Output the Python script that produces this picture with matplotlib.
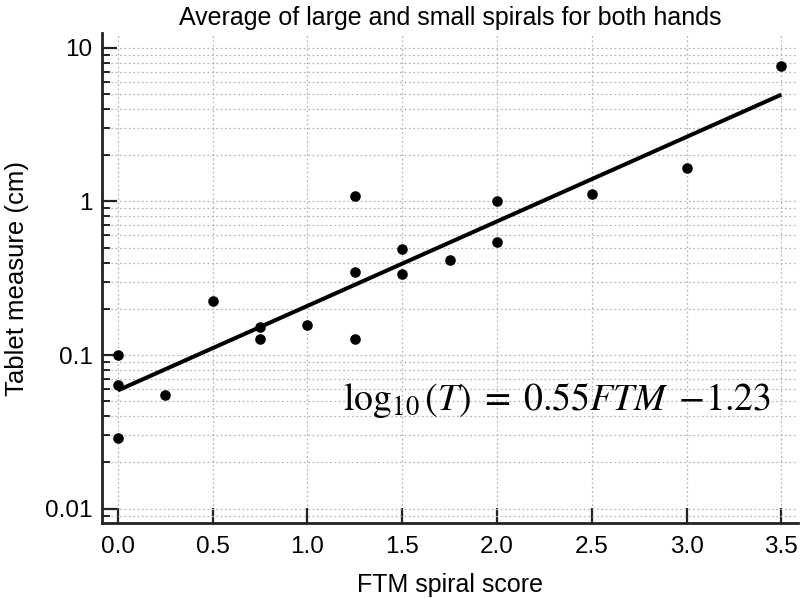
import numpy as np
import matplotlib
matplotlib.use("Agg")
import matplotlib.pyplot as plt
from matplotlib.ticker import LogLocator, FixedLocator, NullFormatter

# FTM spiral score vs tablet measure (cm)
ftm = [0.0, 0.0, 0.0, 0.25, 0.5, 0.75, 0.75, 1.0, 1.25, 1.25, 1.25,
       1.5, 1.5, 1.75, 2.0, 2.0, 2.5, 3.0, 3.5]
tablet = [0.100, 0.064, 0.029, 0.055, 0.225, 0.152, 0.127, 0.157, 1.08,
          0.345, 0.127, 0.49, 0.335, 0.415, 1.01, 0.545, 1.12, 1.64, 7.6]

# regression: log10(T) = slope * FTM + intercept
slope = 0.55
intercept = -1.23
fit_range = [0.0, 3.5]

x_ticks = [0.0, 0.5, 1.0, 1.5, 2.0, 2.5, 3.0, 3.5]
y_ticks = [0.01, 0.1, 1, 10]
y_ticklabels = ["0.01", "0.1", "1", "10"]

plt.rcParams["font.family"] = ["Liberation Sans", "DejaVu Sans"]
plt.rcParams["mathtext.fontset"] = "stix"

fig = plt.figure(figsize=(8.0, 5.98), dpi=100)
ax = fig.add_axes([0.128, 0.125, 0.870, 0.820])

ax.set_yscale("log")
ax.set_xlim(-0.082, 3.59)
ax.set_ylim(10 ** -2.095, 10 ** 1.097)

grid_kw = dict(color="#b8b8b8", linestyle=(0, (1.5, 2.0)), linewidth=0.9)
ax.grid(True, which="both", axis="y", **grid_kw)
ax.grid(True, which="major", axis="x", **grid_kw)
ax.set_axisbelow(True)

fx = np.array(fit_range)
ax.plot(fx, 10 ** (slope * fx + intercept), color="black",
        linewidth=2.9, solid_capstyle="butt", zorder=3)
ax.scatter(ftm, tablet, s=58, color="black", zorder=4, linewidths=0)

ax.xaxis.set_major_locator(FixedLocator(x_ticks))
ax.set_xticklabels([f"{v:.1f}" for v in x_ticks])
ax.yaxis.set_major_locator(FixedLocator(y_ticks))
ax.set_yticklabels(y_ticklabels)
ax.yaxis.set_minor_locator(LogLocator(base=10, subs=np.arange(2, 10)))
ax.yaxis.set_minor_formatter(NullFormatter())

for side in ("top", "right"):
    ax.spines[side].set_visible(False)
for side in ("left", "bottom"):
    ax.spines[side].set_linewidth(2.0)
    ax.spines[side].set_color("#222222")

ax.tick_params(axis="both", which="major", direction="in", length=11,
               width=1.6, labelsize=17.5, color="#222222")
ax.tick_params(axis="x", which="major", pad=9)
ax.tick_params(axis="y", which="major", pad=7)
ax.tick_params(axis="y", which="minor", direction="in", length=6,
               width=1.4, color="#222222")

ax.set_xlabel("FTM spiral score", fontsize=18, labelpad=11)
ax.set_ylabel("Tablet measure (cm)", fontsize=18.5, labelpad=12)
ax.set_title("Average of large and small spirals for both hands",
             fontsize=18, pad=6)

ax.text(0.96, 0.231, r"$\log_{10}(T)\;=\;0.55FTM\;-\!1.23$",
        transform=ax.transAxes, ha="right", va="baseline", fontsize=27.3)

fig.savefig("out.png", dpi=100)
